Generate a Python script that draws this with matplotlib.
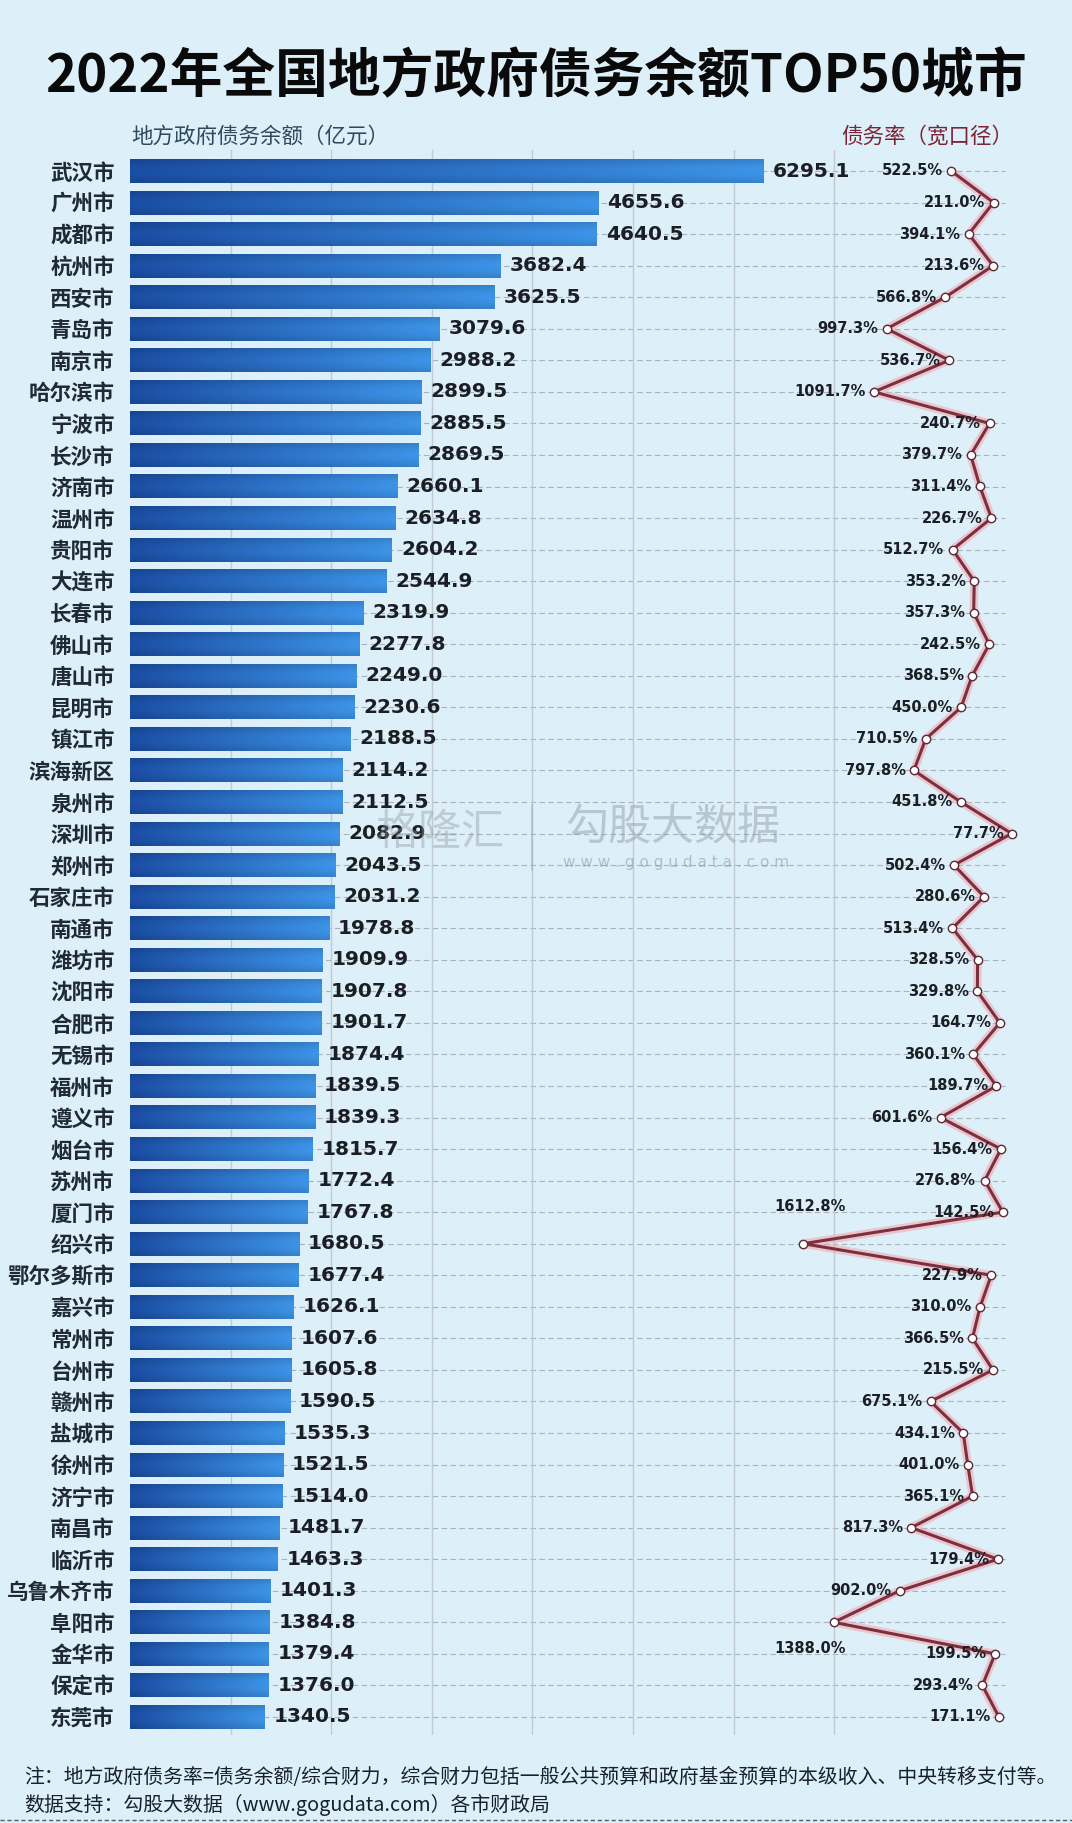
import numpy as np
import matplotlib.pyplot as plt
from matplotlib.lines import Line2D
from matplotlib.colors import to_rgb

plt.rcParams['font.family'] = ['Noto Sans CJK SC', 'DejaVu Sans']

# 城市、债务余额（亿元）与债务率（宽口径，%）
cities = ['武汉市', '广州市', '成都市', '杭州市', '西安市', '青岛市', '南京市', '哈尔滨市',
          '宁波市', '长沙市', '济南市', '温州市', '贵阳市', '大连市', '长春市', '佛山市',
          '唐山市', '昆明市', '镇江市', '滨海新区', '泉州市', '深圳市', '郑州市', '石家庄市',
          '南通市', '潍坊市', '沈阳市', '合肥市', '无锡市', '福州市', '遵义市', '烟台市',
          '苏州市', '厦门市', '绍兴市', '鄂尔多斯市', '嘉兴市', '常州市', '台州市', '赣州市',
          '盐城市', '徐州市', '济宁市', '南昌市', '临沂市', '乌鲁木齐市', '阜阳市', '金华市',
          '保定市', '东莞市']
debt = [6295.1, 4655.6, 4640.5, 3682.4, 3625.5, 3079.6, 2988.2, 2899.5,
        2885.5, 2869.5, 2660.1, 2634.8, 2604.2, 2544.9, 2319.9, 2277.8,
        2249.0, 2230.6, 2188.5, 2114.2, 2112.5, 2082.9, 2043.5, 2031.2,
        1978.8, 1909.9, 1907.8, 1901.7, 1874.4, 1839.5, 1839.3, 1815.7,
        1772.4, 1767.8, 1680.5, 1677.4, 1626.1, 1607.6, 1605.8, 1590.5,
        1535.3, 1521.5, 1514.0, 1481.7, 1463.3, 1401.3, 1384.8, 1379.4,
        1376.0, 1340.5]
rate = [522.5, 211.0, 394.1, 213.6, 566.8, 997.3, 536.7, 1091.7,
        240.7, 379.7, 311.4, 226.7, 512.7, 353.2, 357.3, 242.5,
        368.5, 450.0, 710.5, 797.8, 451.8, 77.7, 502.4, 280.6,
        513.4, 328.5, 329.8, 164.7, 360.1, 189.7, 601.6, 156.4,
        276.8, 142.5, 1612.8, 227.9, 310.0, 366.5, 215.5, 675.1,
        434.1, 401.0, 365.1, 817.3, 179.4, 902.0, 1388.0, 199.5,
        293.4, 171.1]

W, H = 1072, 1823
fig = plt.figure(figsize=(W / 100, H / 100), dpi=100)
fig.patch.set_facecolor('#ddeff8')

# 轴的位置（像素）
left_px, right_px, top_px, bot_px = 130, 1040, 150, 1735
ax = fig.add_axes([left_px / W, 1 - bot_px / H, (right_px - left_px) / W, (bot_px - top_px) / H])
ax.set_facecolor('none')

n = len(cities)
rows = np.arange(n)
row0, step = 171, 31.55
px_per_unit = 0.1006
xmax = (right_px - left_px) / px_per_unit
ylim = ((bot_px - row0) / step, (top_px - row0) / step)

# 横向虚线 + 纵向网格
ax.hlines(rows, 0, (1005 - left_px) / px_per_unit, colors='#a9b3bb', linestyles=(0, (5, 3)),
          linewidth=0.8, zorder=1)
for gx in range(1000, 8000, 1000):
    ax.axvline(gx, color='#c3cbd2', linewidth=1.0, zorder=1)

# 渐变柱
c0 = np.array(to_rgb('#1b4ea5'))
c1 = np.array(to_rgb('#3d94e8'))
t = np.linspace(0, 1, 64)
grad = c0[None, :] * (1 - t[:, None]) + c1[None, :] * t[:, None]
shade = 1 - 0.12 * np.abs(np.linspace(-1, 1, 10))[:, None, None] ** 2
grad_img = np.clip(grad[None, :, :] * shade, 0, 1)
bh = 0.76
for i, v in enumerate(debt):
    ax.imshow(grad_img, extent=[0, v, i + bh / 2, i - bh / 2], aspect='auto',
              interpolation='bicubic', zorder=2)
    ax.text(v + 90, i, f'{v:.1f}', va='center', ha='left', fontsize=14.5,
            fontweight='bold', family='DejaVu Sans', color='#1b1e24', zorder=4)

ax.set_xlim(0, xmax)
ax.set_ylim(*ylim)
ax.set_aspect('auto')
ax.set_xticks([])
ax.set_yticks(rows)
ax.set_yticklabels(cities, fontsize=15.5, fontweight='bold', color='#1f2a36')
ax.tick_params(axis='y', length=0, pad=11)
for s in ax.spines.values():
    s.set_visible(False)

# 债务率折线（反向次轴）
ax2 = ax.twiny()
ax2.set_facecolor('none')
r_at_left = (1022.2 - left_px) / 0.1358
r_at_right = (1022.2 - right_px) / 0.1358
ax2.set_xlim(r_at_left, r_at_right)
ax2.set_ylim(*ylim)
ax2.plot(rate, rows, color='#f3a3ad', linewidth=6, alpha=0.55, zorder=3, solid_capstyle='round')
ax2.plot(rate, rows, color='#7c2f3e', linewidth=2.2, zorder=4)
ax2.plot(rate, rows, 'o', ms=6, mfc='white', mec='#5b2a36', mew=1.0, zorder=5)
for i, r in enumerate(rate):
    if cities[i] == '绍兴市':
        off, ha = (5, 27), 'center'
    elif cities[i] == '阜阳市':
        off, ha = (-17, -19), 'center'
    else:
        off, ha = (-6, 0), 'right'
    ax2.annotate(f'{r:.1f}%', (r, i), xytext=off, textcoords='offset points',
                 ha=ha, va='center', fontsize=10.5, fontweight='bold',
                 family='DejaVu Sans', color='#1b1e24', zorder=6)
ax2.set_xticks([])
for s in ax2.spines.values():
    s.set_visible(False)

# 标题与表头
fig.text(536 / W, 1 - 77 / H, '2022年全国地方政府债务余额TOP50城市', ha='center', va='center',
         fontsize=38, fontweight='bold', color='#0a0a0a')
fig.text(131 / W, 1 - 137 / H, '地方政府债务余额（亿元）', ha='left', va='center',
         fontsize=15.5, color='#2e4a5c')
fig.text(927 / W, 1 - 137 / H, '债务率（宽口径）', ha='center', va='center',
         fontsize=15.5, color='#7a2535')

# 水印
wm = '#8c969e'
fig.text(673 / W, 1 - 828 / H, '勾股大数据', ha='center', va='center', fontsize=31,
         color=wm, alpha=0.45)
fig.text(676 / W, 1 - 862 / H, 'w w w . g o g u d a t a . c o m', ha='center', va='center',
         fontsize=11, color=wm, alpha=0.55, family='DejaVu Sans')
fig.text(440 / W, 1 - 833 / H, '格隆汇', ha='center', va='center', fontsize=31,
         color=wm, alpha=0.4)
fig.add_artist(Line2D([532 / W, 532 / W], [1 - 805 / H, 1 - 870 / H], color=wm,
                      alpha=0.4, linewidth=1.2))

# 注释
fig.text(24 / W, 1 - 1778 / H,
         '注：地方政府债务率=债务余额/综合财力，综合财力包括一般公共预算和政府基金预算的本级收入、中央转移支付等。',
         ha='left', va='center', fontsize=14.3, color='#182030')
fig.text(24 / W, 1 - 1805 / H, '数据支持：勾股大数据（www.gogudata.com）各市财政局',
         ha='left', va='center', fontsize=14.3, color='#182030')
fig.add_artist(Line2D([0, 1], [1 - 1820 / H, 1 - 1820 / H], color='#555d66',
                      linewidth=1, linestyle=(0, (3, 2))))

fig.savefig('out.png', dpi=100, facecolor=fig.get_facecolor())
